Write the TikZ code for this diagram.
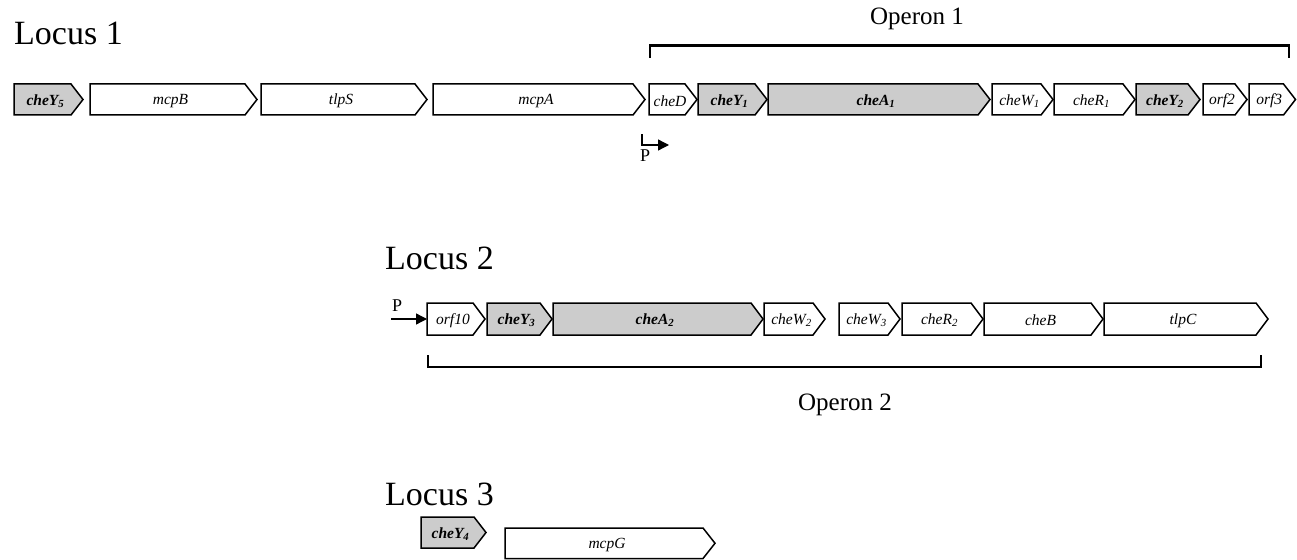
\documentclass[tikz,border=0pt]{standalone}
\usepackage{fontspec}
\setmainfont{Liberation Serif}
\usetikzlibrary{arrows.meta}
\tikzset{
  genebox/.style={draw=black, line width=1.5pt, line join=miter},
  shaded/.style={genebox, fill=black!20},
  plain/.style={genebox, fill=white},
  glabel/.style={font=\fontsize{15.5}{15.5}\selectfont\itshape, inner sep=0pt},
  blabel/.style={font=\fontsize{15.5}{15.5}\selectfont\bfseries\itshape, inner sep=0pt},
  bracket/.style={line width=2.6pt},
  locustitle/.style={font=\fontsize{34}{34}\selectfont, anchor=west, inner sep=0pt},
  optitle/.style={font=\fontsize{25}{25}\selectfont, inner sep=0pt},
  promlabel/.style={font=\fontsize{18}{18}\selectfont, inner sep=0pt},
  prom/.style={line width=1.3pt, -{Triangle[length=11pt,width=11pt]}},
}
% x1 x2 ytop ybot boxstyle labelstyle label name
\newcommand\gn[8]{%
  \draw[#5] (#1,#3) -- ({#2-12},#3) -- (#2,{(#3+#4)/2}) -- ({#2-12},#4) -- (#1,#4) -- cycle;
  \node[#6] (#8) at ({(#1+#2)/2-3},{(#3+#4)/2+1.5}) {#7};}
\begin{document}
\begin{tikzpicture}[x=1pt,y=-1pt]
\useasboundingbox (0,0) rectangle (1297,559);
% ---------- Locus 1 ----------
\node[locustitle] (L1) at (14,33) {Locus 1};
\gn{14}{83}{84}{115}{shaded}{blabel}{cheY\textsubscript{5}}{cheYfive}
\gn{90}{257}{84}{115}{plain}{glabel}{mcpB}{mcpB}
\gn{261}{427}{84}{115}{plain}{glabel}{tlpS}{tlpS}
\gn{433}{645}{84}{115}{plain}{glabel}{mcpA}{mcpA}
\gn{649}{697}{84}{115}{plain}{glabel}{cheD}{cheD}
\gn{698}{767}{84}{115}{shaded}{blabel}{cheY\textsubscript{1}}{cheYone}
\gn{768}{990}{84}{115}{shaded}{blabel}{cheA\textsubscript{1}}{cheAone}
\gn{992}{1053}{84}{115}{plain}{glabel}{cheW\textsubscript{1}}{cheWone}
\gn{1054}{1135}{84}{115}{plain}{glabel}{cheR\textsubscript{1}}{cheRone}
\gn{1136}{1200}{84}{115}{shaded}{blabel}{cheY\textsubscript{2}}{cheYtwo}
\gn{1203}{1247}{84}{115}{plain}{glabel}{orf2}{orftwo}
\gn{1249}{1295.5}{84}{115}{plain}{glabel}{orf3}{orfthree}
% operon 1 bracket
\node[optitle] (op1) at (917,19) {Operon 1};
\coordinate (b1l) at (650,58);
\coordinate (b1r) at (1289,58);
\draw[bracket] (b1l) -- (650,45.5) -- (1289,45.5) -- (b1r);
% promoter 1
\coordinate (p1s) at (642,134);
\coordinate (p1e) at (669,145);
\draw[prom] (p1s) |- (p1e);
\node[promlabel] (P1) at (645,156) {P};
% ---------- Locus 2 ----------
\node[locustitle] (L2) at (385,258) {Locus 2};
\gn{427}{485}{303}{335}{plain}{glabel}{orf10}{orften}
\gn{487}{552}{303}{335}{shaded}{blabel}{cheY\textsubscript{3}}{cheYthree}
\gn{553}{763}{303}{335}{shaded}{blabel}{cheA\textsubscript{2}}{cheAtwo}
\gn{764}{825}{303}{335}{plain}{glabel}{cheW\textsubscript{2}}{cheWtwo}
\gn{839}{900}{303}{335}{plain}{glabel}{cheW\textsubscript{3}}{cheWthree}
\gn{902}{983}{303}{335}{plain}{glabel}{cheR\textsubscript{2}}{cheRtwo}
\gn{984}{1103}{303}{335}{plain}{glabel}{cheB}{cheB}
\gn{1104}{1268}{303}{335}{plain}{glabel}{tlpC}{tlpC}
% promoter 2
\coordinate (p2s) at (391,319);
\coordinate (p2e) at (427,319);
\draw[prom] (p2s) -- (p2e);
\node[promlabel] (P2) at (397,306) {P};
% operon 2 bracket
\coordinate (b2l) at (428,355);
\coordinate (b2r) at (1261,355);
\draw[bracket] (b2l) -- (428,367) -- (1261,367) -- (b2r);
\node[optitle] (op2) at (845,405) {Operon 2};
% ---------- Locus 3 ----------
\node[locustitle] (L3) at (385,494) {Locus 3};
\gn{421}{486}{517}{548}{shaded}{blabel}{cheY\textsubscript{4}}{cheYfour}
\gn{505}{715}{528}{558.5}{plain}{glabel}{mcpG}{mcpG}
\end{tikzpicture}
\end{document}
